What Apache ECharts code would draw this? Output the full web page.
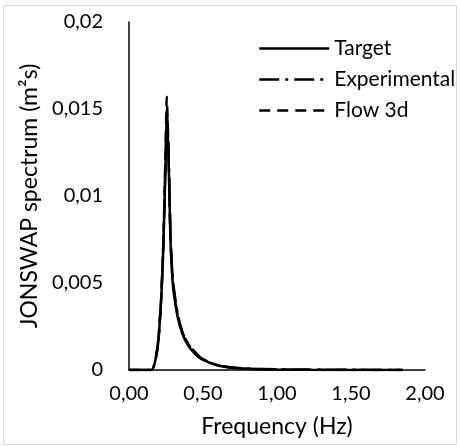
<!DOCTYPE html>
<html>
<head>
<meta charset="utf-8">
<script src="https://cdn.jsdelivr.net/npm/echarts@6/dist/echarts.min.js"></script>
<style>
  html, body { margin: 0; padding: 0; background: #fff; }
  #chart { width: 460px; height: 447px; }
</style>
</head>
<body>
<div id="chart"></div>
<script>
const freq = [0, 0.10, 0.15, 0.19, 0.21, 0.22, 0.23, 0.24, 0.25, 0.255, 0.26, 0.27, 0.28, 0.29, 0.30, 0.33, 0.36, 0.40, 0.45, 0.50, 0.60, 0.70, 0.80, 1.00, 1.20, 1.50, 1.85];
const target = [0, 0, 0, 0.0011, 0.0030, 0.0045, 0.0066, 0.0095, 0.0128, 0.0144, 0.0140, 0.0112, 0.0075, 0.0057, 0.0046, 0.0030, 0.0021, 0.0014, 0.0009, 0.00058, 0.00026, 0.00013, 0.00007, 0.00003, 0.00001, 0.000005, 0];
const experimental = [0, 0, 0, 0.0012, 0.0031, 0.0046, 0.0068, 0.0098, 0.0132, 0.0149, 0.0143, 0.0116, 0.0079, 0.0060, 0.0049, 0.0032, 0.0022, 0.0015, 0.0010, 0.00062, 0.00028, 0.00014, 0.00008, 0.00004, 0.00002, 0.00001, 0];
const flow3d = [0, 0, 0, 0.0011, 0.0031, 0.0046, 0.0067, 0.0100, 0.0138, 0.0157, 0.0146, 0.0114, 0.0077, 0.0059, 0.0048, 0.0031, 0.0022, 0.0015, 0.0009, 0.00060, 0.00027, 0.00013, 0.00007, 0.00003, 0.00001, 0.000005, 0];
const seriesNames = ['Target', 'Experimental', 'Flow 3d'];

const font = 'Lato, "Open Sans", sans-serif';
const pairs = (ys) => freq.map((f, i) => [f, ys[i]]);

const chart = echarts.init(document.getElementById('chart'));

function line(name, ys, type) {
  return {
    type: 'line',
    name: name,
    data: pairs(ys),
    smooth: 0.3,
    symbol: 'none',
    lineStyle: { color: '#000', width: 2.5, type: type },
    itemStyle: { color: '#000' },
  };
}

chart.setOption({
  animation: false,
  grid: {
    left: 129,
    right: 35,
    top: 22,
    bottom: 77,
  },
  graphic: [{
    type: 'rect',
    shape: { x: 3.5, y: 5.5, width: 453, height: 439 },
    style: { fill: 'none', stroke: '#d9d9d9', lineWidth: 1 },
    silent: true,
  }],
  legend: {
    left: 258,
    top: 38,
    orient: 'vertical',
    itemWidth: 70,
    itemHeight: 24,
    itemGap: 10,
    padding: 0,
    itemStyle: { opacity: 0 },
    lineStyle: { width: 2.5 },
    textStyle: { fontFamily: font, fontSize: 21, color: '#000' },
    data: seriesNames,
  },
  xAxis: {
    type: 'value',
    min: 0,
    max: 2,
    interval: 0.5,
    name: 'Frequency (Hz)',
    nameLocation: 'middle',
    nameGap: 45,
    nameTextStyle: { fontFamily: font, fontSize: 23, color: '#000' },
    axisLine: { lineStyle: { color: '#000', width: 1.5 } },
    axisTick: { show: false },
    splitLine: { show: false },
    axisLabel: {
      margin: 14,
      fontFamily: font,
      fontSize: 20,
      color: '#000',
      formatter: (v) => v.toFixed(2).replace('.', ','),
    },
  },
  yAxis: {
    type: 'value',
    min: 0,
    max: 0.02,
    interval: 0.005,
    name: 'JONSWAP spectrum (m²s)',
    nameLocation: 'middle',
    nameGap: 79,
    nameTextStyle: { fontFamily: font, fontSize: 23, color: '#000' },
    axisLine: { show: true, lineStyle: { color: '#000', width: 1.5 } },
    axisTick: { show: false },
    splitLine: { show: false },
    axisLabel: {
      margin: 26,
      fontFamily: font,
      fontSize: 20,
      color: '#000',
      formatter: (v) => String(+v.toFixed(3)).replace('.', ','),
    },
  },
  series: [
    line(seriesNames[0], target, 'solid'),
    line(seriesNames[1], experimental, [20, 6, 3, 6]),
    line(seriesNames[2], flow3d, [11, 7]),
  ],
});
</script>
</body>
</html>
